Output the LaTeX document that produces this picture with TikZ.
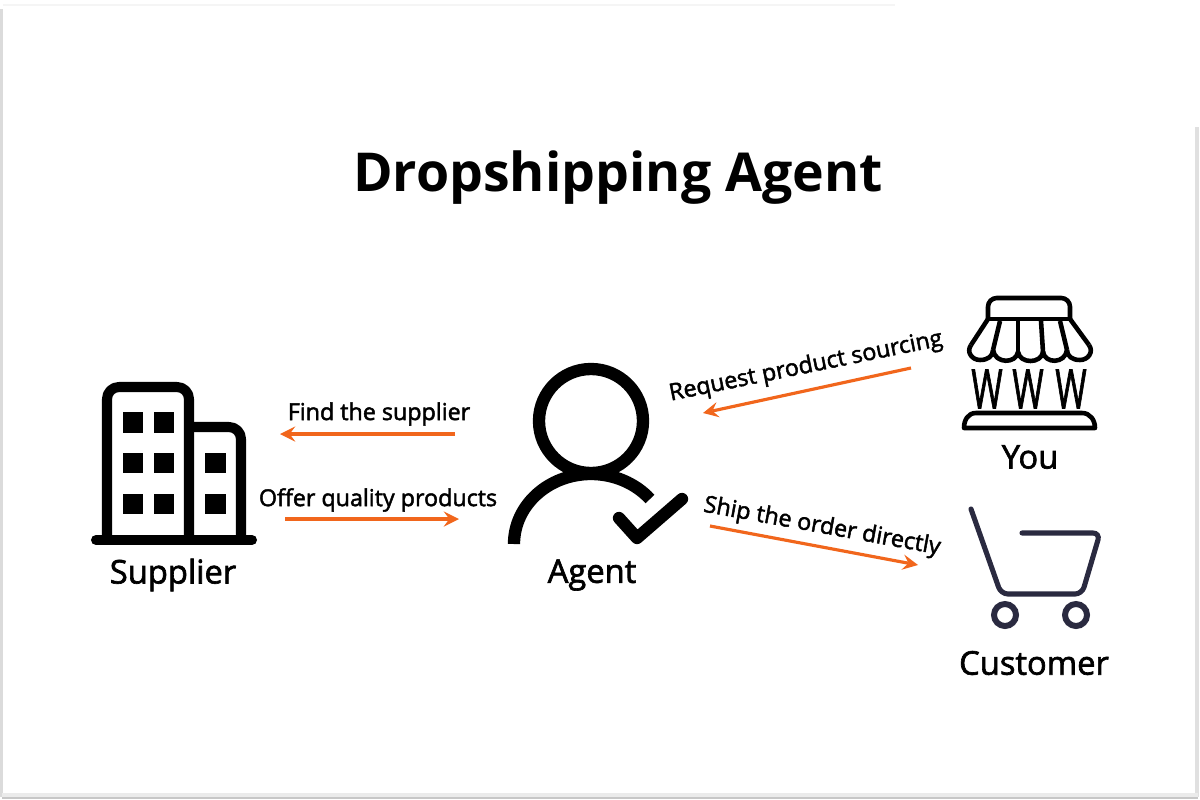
\documentclass[tikz,border=0pt]{standalone}
\usepackage{fontspec}
\setmainfont{Open Sans}
\newfontfamily\labelfont[FakeBold=2]{Open Sans}
\newfontfamily\letterfont[FakeBold=1.8]{Open Sans}
\usetikzlibrary{arrows,positioning}
\definecolor{flowcolor}{HTML}{F1661C}
\definecolor{cartcolor}{HTML}{2A2A40}
\tikzstyle{flow} = [line width=0.9pt,->,>=stealth,flowcolor]
\tikzstyle{thick icon} = [line width=2.85pt,line join=round]
\tikzstyle{thin icon} = [line width=1.3pt,line join=round]
\tikzstyle{person} = [line width=3.5pt]
\tikzstyle{caption} = [font=\labelfont\fontsize{9.3}{10}\selectfont]
\tikzstyle{tag} = [font=\labelfont\fontsize{6.62}{7}\selectfont]
\tikzstyle{letter} = [font=\letterfont\fontsize{15.5}{15}\selectfont]
\begin{document}
\begin{tikzpicture}[x=0.01cm,y=-0.01cm]
    \useasboundingbox (0,0) rectangle (1200,800);
    \draw [black!4,line width=0.8pt] (3,5) -- (895,5);
    \draw [black!14,line width=0.7pt] (1.5,9) -- (1.5,797);
    \draw [black!12,line width=1pt] (1197,127) -- (1197,797);
    \draw [black!8,line width=1.6pt] (2,796) -- (1198,796);
    \draw [black!22,line width=0.7pt] (2,798) -- (1198,798);

    \node (title) at (618,178) {\fontsize{15.25}{18}\selectfont\bfseries Dropshipping Agent};

    \draw [thick icon,rounded corners=3.4pt] (107,540) -- (107,387) -- (189,387) -- (189,540);
    \draw [thick icon,rounded corners=3.4pt] (189,427) -- (241,427) -- (241,540);
    \draw [thick icon,line cap=round] (96,540) -- (252,540);
    \fill (123,412) rectangle (143,433);
    \fill (154,412) rectangle (174,433);
    \fill (123,453) rectangle (143,473);
    \fill (154,453) rectangle (174,473);
    \fill (205,453) rectangle (226,473);
    \fill (123,494) rectangle (143,514);
    \fill (154,494) rectangle (174,514);
    \fill (205,494) rectangle (226,514);
    \node [caption] (supplier) at (173,575) {Supplier};

    \draw [person] (591,421) circle [radius=52];
    \draw [person] (514,544) arc [start angle=180,end angle=320,x radius=77,y radius=70];
    \draw [person,line cap=round,line join=round] (619,518) -- (637,538) -- (682,499);
    \node [caption] (agent) at (592,575) {Agent};

    \draw [thin icon,rounded corners=2.5pt] (988,319) -- (988,298) -- (1070,298) -- (1070,319);
    \draw [thin icon] (988,319) -- (1070,319);
    \draw [thin icon] (988,319) -- (971,345);
    \draw [thin icon] (1000,321) -- (993,350);
    \draw [thin icon] (1018,321) -- (1018,352);
    \draw [thin icon] (1041,321) -- (1043,352);
    \draw [thin icon] (1060,321) -- (1067,350);
    \draw [thin icon] (1070,319) -- (1089,345);
    \draw [thin icon] (971,345) .. controls (966,352) and (972,360) .. (980,360) .. controls (988,360) and (993,356) .. (993,350);
    \draw [thin icon] (993,350) .. controls (995,364) and (1016,364) .. (1018,352);
    \draw [thin icon] (1018,352) .. controls (1020,364) and (1041,364) .. (1043,352);
    \draw [thin icon] (1043,352) .. controls (1045,364) and (1065,364) .. (1067,350);
    \draw [thin icon] (1067,350) .. controls (1067,356) and (1072,360) .. (1080,360) .. controls (1088,360) and (1094,352) .. (1089,345);
    \node [letter] (wone) at (987,389) {\scalebox{0.62}[1]{W}};
    \node [letter] (wtwo) at (1028,389) {\scalebox{0.62}[1]{W}};
    \node [letter] (wthree) at (1071,389) {\scalebox{0.62}[1]{W}};
    \draw [thin icon] (964,428) .. controls (964,420) and (968,413) .. (976,413) -- (1082,413) .. controls (1090,413) and (1095,420) .. (1095,428) -- cycle;
    \node [caption] (you) at (1030,457) {You};

    \draw [cartcolor,line width=1.45pt,line cap=round,rounded corners=2pt] (971,509) -- (1001,594) -- (1082,594) -- (1100,533) -- (1022,533);
    \draw [cartcolor,line width=1.7pt] (1005,615) circle [radius=11];
    \draw [cartcolor,line width=1.7pt] (1076,615) circle [radius=11];
    \node [caption] (customer) at (1034,663) {Customer};

    \coordinate (findstart) at (455,434);
    \coordinate (findend) at (280,434);
    \coordinate (offerstart) at (285,519);
    \coordinate (offerend) at (459,519);
    \coordinate (requeststart) at (911,368);
    \coordinate (requestend) at (703,413);
    \coordinate (shipstart) at (710,526);
    \coordinate (shipend) at (918,565);
    \draw [flow] (findstart) -- (findend);
    \draw [flow] (offerstart) -- (offerend);
    \draw [flow] (requeststart) -- (requestend);
    \draw [flow] (shipstart) -- (shipend);
    \node [tag] (find) at (379,414) {Find the supplier};
    \node [tag] (offer) at (378,500) {Offer quality products};
    \node [tag,rotate=11.5] (request) at (806,367) {Request product sourcing};
    \node [tag,rotate=-10.3] (ship) at (822,527) {Ship the order directly};
\end{tikzpicture}
\end{document}
